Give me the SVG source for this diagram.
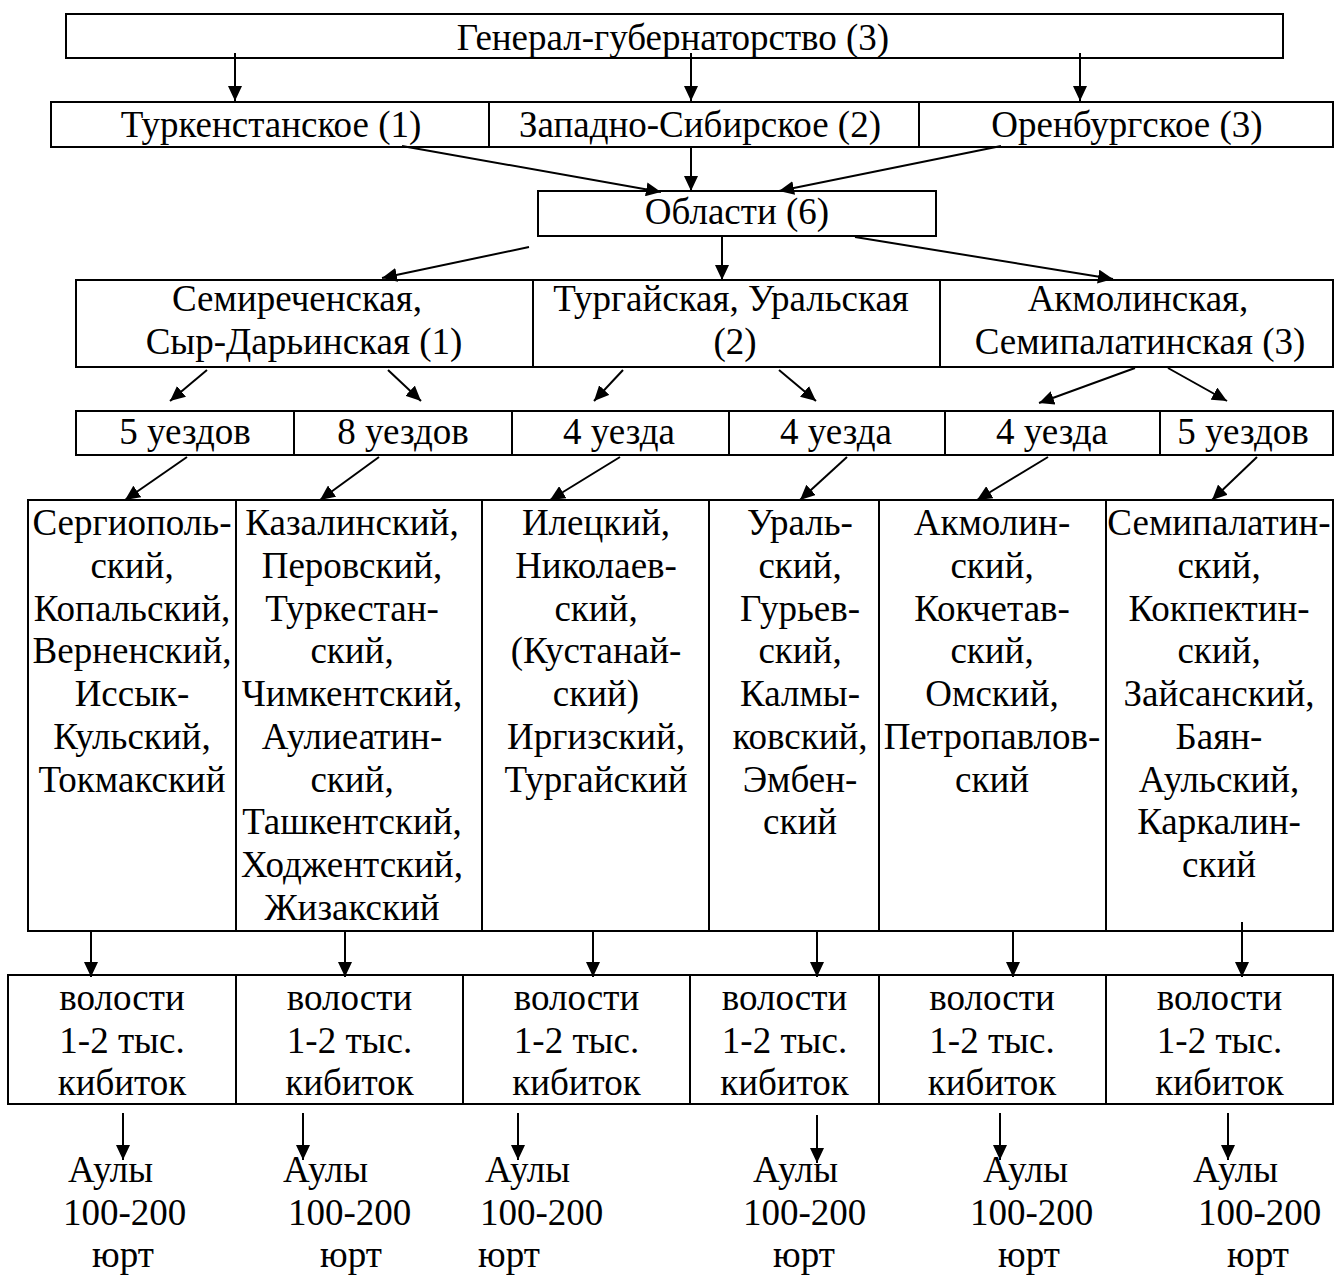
<svg xmlns="http://www.w3.org/2000/svg" width="1335" height="1275" viewBox="0 0 1335 1275">
<style>
.box{fill:#fff;stroke:#000;stroke-width:2}
.t{font-family:"Liberation Serif","Times New Roman",serif;font-size:37px;fill:#000;text-anchor:middle}
.ts{font-family:"Liberation Serif","Times New Roman",serif;font-size:37px;fill:#000;text-anchor:start}
.c{stroke:#000;stroke-width:2;fill:none;marker-end:url(#ah)}
</style>
<defs>
<marker id="ah" markerUnits="userSpaceOnUse" markerWidth="15" markerHeight="14" refX="15" refY="7" orient="auto">
<path d="M0,0 L15,7 L0,14 z" fill="#000"/>
</marker>
</defs>
<rect width="1335" height="1275" fill="#fff"/>

<g id="gg"><rect class="box" x="66" y="14" width="1217" height="44"/><text class="t" x="673" y="50">Генерал-губернаторство (3)</text></g>

<g id="turk"><rect class="box" x="51" y="102" width="438" height="45"/><text class="t" x="271" y="137">Туркенстанское (1)</text></g>
<g id="zapsib"><rect class="box" x="489" y="102" width="430" height="45"/><text class="t" x="700" y="137">Западно-Сибирское (2)</text></g>
<g id="orenb"><rect class="box" x="919" y="102" width="414" height="45"/><text class="t" x="1127" y="137">Оренбургское (3)</text></g>

<g id="oblasti"><rect class="box" x="538" y="191" width="398" height="45"/><text class="t" x="737" y="224">Области (6)</text></g>

<g id="obl1"><rect class="box" x="76" y="280" width="457" height="87"/><text class="t" x="297" y="311">Семиреченская,</text><text class="t" x="304" y="354">Сыр-Дарьинская (1)</text></g>
<g id="obl2"><rect class="box" x="533" y="280" width="407" height="87"/><text class="t" x="731" y="311">Тургайская, Уральская</text><text class="t" x="735" y="354">(2)</text></g>
<g id="obl3"><rect class="box" x="940" y="280" width="393" height="87"/><text class="t" x="1138" y="311">Акмолинская,</text><text class="t" x="1140" y="354">Семипалатинская (3)</text></g>

<g id="u1"><rect class="box" x="76" y="411" width="218" height="44"/><text class="t" x="185" y="444">5 уездов</text></g>
<g id="u2"><rect class="box" x="294" y="411" width="218" height="44"/><text class="t" x="403" y="444">8 уездов</text></g>
<g id="u3"><rect class="box" x="512" y="411" width="217" height="44"/><text class="t" x="619" y="444">4 уезда</text></g>
<g id="u4"><rect class="box" x="729" y="411" width="216" height="44"/><text class="t" x="836" y="444">4 уезда</text></g>
<g id="u5"><rect class="box" x="945" y="411" width="215" height="44"/><text class="t" x="1052" y="444">4 уезда</text></g>
<g id="u6"><rect class="box" x="1160" y="411" width="173" height="44"/><text class="t" x="1243" y="444">5 уездов</text></g>

<g id="d1"><rect class="box" x="28" y="500" width="208" height="431"/>
<text class="t"><tspan x="132" y="535">Сергиополь-</tspan><tspan x="132" y="577.75">ский,</tspan><tspan x="132" y="620.5">Копальский,</tspan><tspan x="132" y="663.25">Верненский,</tspan><tspan x="132" y="706">Иссык-</tspan><tspan x="132" y="748.75">Кульский,</tspan><tspan x="132" y="791.5">Токмакский</tspan></text></g>
<g id="d2"><rect class="box" x="236" y="500" width="246" height="431"/>
<text class="t"><tspan x="352" y="535">Казалинский,</tspan><tspan x="352" y="577.75">Перовский,</tspan><tspan x="352" y="620.5">Туркестан-</tspan><tspan x="352" y="663.25">ский,</tspan><tspan x="352" y="706">Чимкентский,</tspan><tspan x="352" y="748.75">Аулиеатин-</tspan><tspan x="352" y="791.5">ский,</tspan><tspan x="352" y="834.25">Ташкентский,</tspan><tspan x="352" y="877">Ходжентский,</tspan><tspan x="352" y="919.75">Жизакский</tspan></text></g>
<g id="d3"><rect class="box" x="482" y="500" width="227" height="431"/>
<text class="t"><tspan x="596" y="535">Илецкий,</tspan><tspan x="596" y="577.75">Николаев-</tspan><tspan x="596" y="620.5">ский,</tspan><tspan x="596" y="663.25">(Кустанай-</tspan><tspan x="596" y="706">ский)</tspan><tspan x="596" y="748.75">Иргизский,</tspan><tspan x="596" y="791.5">Тургайский</tspan></text></g>
<g id="d4"><rect class="box" x="709" y="500" width="170" height="431"/>
<text class="t"><tspan x="800" y="535">Ураль-</tspan><tspan x="800" y="577.75">ский,</tspan><tspan x="800" y="620.5">Гурьев-</tspan><tspan x="800" y="663.25">ский,</tspan><tspan x="800" y="706">Калмы-</tspan><tspan x="800" y="748.75">ковский,</tspan><tspan x="800" y="791.5">Эмбен-</tspan><tspan x="800" y="834.25">ский</tspan></text></g>
<g id="d5"><rect class="box" x="879" y="500" width="227" height="431"/>
<text class="t"><tspan x="992" y="535">Акмолин-</tspan><tspan x="992" y="577.75">ский,</tspan><tspan x="992" y="620.5">Кокчетав-</tspan><tspan x="992" y="663.25">ский,</tspan><tspan x="992" y="706">Омский,</tspan><tspan x="992" y="748.75">Петропавлов-</tspan><tspan x="992" y="791.5">ский</tspan></text></g>
<g id="d6"><rect class="box" x="1106" y="500" width="227" height="431"/>
<text class="t"><tspan x="1219" y="535">Семипалатин-</tspan><tspan x="1219" y="577.75">ский,</tspan><tspan x="1219" y="620.5">Кокпектин-</tspan><tspan x="1219" y="663.25">ский,</tspan><tspan x="1219" y="706">Зайсанский,</tspan><tspan x="1219" y="748.75">Баян-</tspan><tspan x="1219" y="791.5">Аульский,</tspan><tspan x="1219" y="834.25">Каркалин-</tspan><tspan x="1219" y="877">ский</tspan></text></g>

<g id="v1"><rect class="box" x="8" y="975" width="228" height="129"/><text class="t"><tspan x="122" y="1010">волости</tspan><tspan x="122" y="1053">1-2 тыс.</tspan><tspan x="122" y="1095">кибиток</tspan></text></g>
<g id="v2"><rect class="box" x="236" y="975" width="227" height="129"/><text class="t"><tspan x="349.5" y="1010">волости</tspan><tspan x="349.5" y="1053">1-2 тыс.</tspan><tspan x="349.5" y="1095">кибиток</tspan></text></g>
<g id="v3"><rect class="box" x="463" y="975" width="227" height="129"/><text class="t"><tspan x="576.5" y="1010">волости</tspan><tspan x="576.5" y="1053">1-2 тыс.</tspan><tspan x="576.5" y="1095">кибиток</tspan></text></g>
<g id="v4"><rect class="box" x="690" y="975" width="189" height="129"/><text class="t"><tspan x="784.5" y="1010">волости</tspan><tspan x="784.5" y="1053">1-2 тыс.</tspan><tspan x="784.5" y="1095">кибиток</tspan></text></g>
<g id="v5"><rect class="box" x="879" y="975" width="227" height="129"/><text class="t"><tspan x="992" y="1010">волости</tspan><tspan x="992" y="1053">1-2 тыс.</tspan><tspan x="992" y="1095">кибиток</tspan></text></g>
<g id="v6"><rect class="box" x="1106" y="975" width="227" height="129"/><text class="t"><tspan x="1219.5" y="1010">волости</tspan><tspan x="1219.5" y="1053">1-2 тыс.</tspan><tspan x="1219.5" y="1095">кибиток</tspan></text></g>

<g id="a1"><text class="ts"><tspan x="68" y="1182">Аулы</tspan><tspan x="63" y="1225">100-200</tspan><tspan x="92" y="1267">юрт</tspan></text></g>
<g id="a2"><text class="ts"><tspan x="283" y="1182">Аулы</tspan><tspan x="288" y="1225">100-200</tspan><tspan x="320" y="1267">юрт</tspan></text></g>
<g id="a3"><text class="ts"><tspan x="485" y="1182">Аулы</tspan><tspan x="480" y="1225">100-200</tspan><tspan x="478" y="1267">юрт</tspan></text></g>
<g id="a4"><text class="ts"><tspan x="753" y="1182">Аулы</tspan><tspan x="743" y="1225">100-200</tspan><tspan x="773" y="1267">юрт</tspan></text></g>
<g id="a5"><text class="ts"><tspan x="983" y="1182">Аулы</tspan><tspan x="970" y="1225">100-200</tspan><tspan x="998" y="1267">юрт</tspan></text></g>
<g id="a6"><text class="ts"><tspan x="1193" y="1182">Аулы</tspan><tspan x="1198" y="1225">100-200</tspan><tspan x="1227" y="1267">юрт</tspan></text></g>

<g id="connectors">
<line class="c" x1="235" y1="53" x2="235" y2="101"/>
<line class="c" x1="691" y1="53" x2="691" y2="101"/>
<line class="c" x1="1080" y1="53" x2="1080" y2="101"/>
<line class="c" x1="402" y1="146" x2="661" y2="192"/>
<line class="c" x1="691" y1="147" x2="691" y2="191"/>
<line class="c" x1="1001" y1="146" x2="779" y2="191"/>
<line class="c" x1="529" y1="247" x2="382" y2="278"/>
<line class="c" x1="722" y1="236" x2="722" y2="280"/>
<line class="c" x1="855" y1="237" x2="1113" y2="279"/>
<line class="c" x1="207" y1="370" x2="170" y2="401"/>
<line class="c" x1="388" y1="370" x2="421" y2="401"/>
<line class="c" x1="623" y1="370" x2="594" y2="401"/>
<line class="c" x1="779" y1="370" x2="816" y2="401"/>
<line class="c" x1="1135" y1="368" x2="1039" y2="403"/>
<line class="c" x1="1168" y1="368" x2="1227" y2="401"/>
<line class="c" x1="187" y1="457" x2="125" y2="500"/>
<line class="c" x1="379" y1="457" x2="320" y2="500"/>
<line class="c" x1="620" y1="457" x2="550" y2="500"/>
<line class="c" x1="847" y1="457" x2="800" y2="500"/>
<line class="c" x1="1048" y1="457" x2="977" y2="500"/>
<line class="c" x1="1257" y1="457" x2="1212" y2="500"/>
<line class="c" x1="91" y1="931" x2="91" y2="977"/>
<line class="c" x1="345" y1="931" x2="345" y2="977"/>
<line class="c" x1="593" y1="931" x2="593" y2="977"/>
<line class="c" x1="817" y1="931" x2="817" y2="977"/>
<line class="c" x1="1013" y1="931" x2="1013" y2="977"/>
<line class="c" x1="1242" y1="922" x2="1242" y2="977"/>
<line class="c" x1="123" y1="1113" x2="123" y2="1160"/>
<line class="c" x1="303" y1="1113" x2="303" y2="1160"/>
<line class="c" x1="518" y1="1113" x2="518" y2="1160"/>
<line class="c" x1="817" y1="1115" x2="817" y2="1163"/>
<line class="c" x1="1000" y1="1113" x2="1000" y2="1160"/>
<line class="c" x1="1228" y1="1113" x2="1228" y2="1160"/>
</g>
</svg>
